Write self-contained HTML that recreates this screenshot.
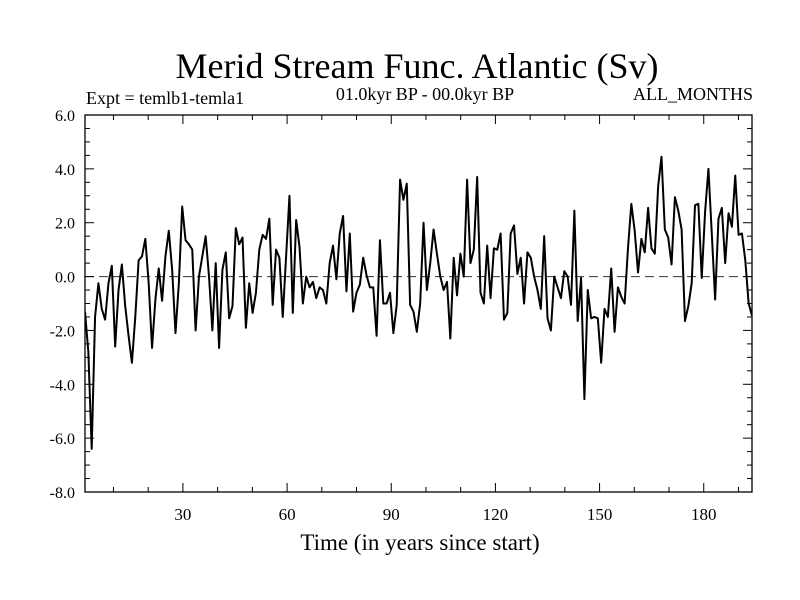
<!DOCTYPE html>
<html><head><meta charset="utf-8">
<style>
body{margin:0;background:#fff;}
svg{display:block;font-family:"Liberation Serif",serif;}
</style></head><body>
<svg id="chart" width="800" height="600" viewBox="0 0 800 600">
<text x="417" y="78" font-size="36" text-anchor="middle">Merid Stream Func. Atlantic (Sv)</text>
<text x="86" y="104" font-size="18">Expt = temlb1-temla1</text>
<text x="425" y="100" font-size="18" text-anchor="middle">01.0kyr BP - 00.0kyr BP</text>
<text x="753" y="100" font-size="18" text-anchor="end">ALL_MONTHS</text>
<text x="420" y="550" font-size="23" text-anchor="middle">Time (in years since start)</text>
<defs><clipPath id="pc"><rect x="85" y="115" width="667" height="377"/></clipPath></defs>
<g id="axes"></g>
<path id="series" fill="none" stroke="#000" stroke-width="2" stroke-linejoin="round" clip-path="url(#pc)"/>
</svg>
<script>
const values = [
-1.3,-2.8,-6.4,-1.5,-0.25,-1.2,-1.6,-0.25,0.4,-2.6,-0.5,0.45,-1.1,-2.2,-3.2,-1.5,0.6,0.75,1.4,-0.25,
-2.65,-0.85,0.3,-0.9,0.75,1.7,0.25,-2.1,-0.25,2.6,1.35,1.2,1.0,-2.0,0,0.75,1.5,0,-2.0,0.5,
-2.65,0.25,0.9,-1.55,-1.1,1.8,1.2,1.45,-1.9,-0.25,-1.35,-0.6,1.0,
1.55,1.4,2.15,-1.05,1.0,0.7,-1.5,0.75,3.0,-1.35,2.1,1.1,-1.0,0,-0.4,-0.2,-0.8,-0.4,-0.5,-1.0,
0.5,1.15,-0.1,1.6,2.25,-0.55,1.6,-1.3,-0.6,-0.3,0.7,0.05,-0.4,-0.4,-2.2,1.35,-1.0,-1.0,-0.6,-2.1,
-1.05,3.6,2.85,3.45,-1.05,-1.3,-2.05,-1.0,2.0,-0.5,0.5,
1.75,0.85,0,-0.5,-0.2,-2.3,0.7,-0.7,0.85,0,3.6,0.5,1.0,3.7,-0.6,-1.0,1.15,-0.8,1.05,1.0,1.6,
-1.6,-1.35,1.6,1.9,0.1,0.7,-1.0,0.9,0.7,0,-0.5,-1.2,1.5,-1.55,-2.0,0,-0.4,-0.8,0.2,0,-1.05,2.45,-1.65,
-0.05,-4.55,-0.5,-1.55,-1.5,-1.55,-3.2,-1.2,-1.5,0.3,-2.05,-0.4,-0.75,-1.0,1.05,2.7,1.7,0.15,1.4,0.9,
2.55,1.05,0.85,3.35,4.45,1.75,1.45,0.45,2.95,2.45,1.75,-1.65,-1.1,-0.25,2.65,2.7,-0.05,2.4,4.0,1.6,
-0.85,2.15,2.55,0.5,2.35,1.85,3.75,1.55,1.6,0.6,-1.0,-1.45
];
const yTicks = [6,4,2,0,-2,-4,-6,-8];
const xTicks = [30,60,90,120,150,180];
const xDomain = [1.8,193.9], yDomain = [-8,6];
const L=85,R=752,T=115,B=492;
const sx = v => L + (v - xDomain[0])/(xDomain[1]-xDomain[0])*(R-L);
const sy = v => B - (v - yDomain[0])/(yDomain[1]-yDomain[0])*(B-T);
const step = (xDomain[1]-xDomain[0])/(values.length-1);
const NS='http://www.w3.org/2000/svg';
const g=document.getElementById('axes');
function mk(tag,attrs,parent){const e=document.createElementNS(NS,tag);for(const k in attrs)e.setAttribute(k,attrs[k]);(parent||g).appendChild(e);return e;}
const fr=mk('rect',{x:L,y:T,width:R-L,height:B-T,fill:'none',stroke:'#000','stroke-width':1.3});


const z=mk('line',{x1:L,x2:R,y1:sy(0),y2:sy(0),stroke:'#333','stroke-width':1,'stroke-dasharray':'9,5'});


for(let v=yDomain[0]; v<=yDomain[1]+1e-9; v+=0.5){
  const major=Math.abs(v%2)<1e-9, len=major?9:5;
  mk('line',{x1:L,x2:L+len,y1:sy(v),y2:sy(v),stroke:'#000'});
  mk('line',{x1:R,x2:R-len,y1:sy(v),y2:sy(v),stroke:'#000'});
}
yTicks.forEach(v=>{
  const t=mk('text',{x:L-10,y:sy(v)+6,'font-size':16,'text-anchor':'end'});
  t.textContent=v.toFixed(1);
  
  
});
for(let v=10; v<xDomain[1]; v+=10){
  const major=v%30===0, len=major?9:5;
  mk('line',{x1:sx(v),x2:sx(v),y1:B,y2:B-len,stroke:'#000'});
  mk('line',{x1:sx(v),x2:sx(v),y1:T,y2:T+len,stroke:'#000'});
}
xTicks.forEach(v=>{
  const t=mk('text',{x:sx(v),y:B+28,'font-size':17,'text-anchor':'middle'});
  t.textContent=v;
  
  
});
document.getElementById('series').setAttribute('d',values.map((v,i)=>(i?'L':'M')+sx(xDomain[0]+i*step).toFixed(2)+','+sy(v).toFixed(2)).join(''));
</script>
</body></html>
